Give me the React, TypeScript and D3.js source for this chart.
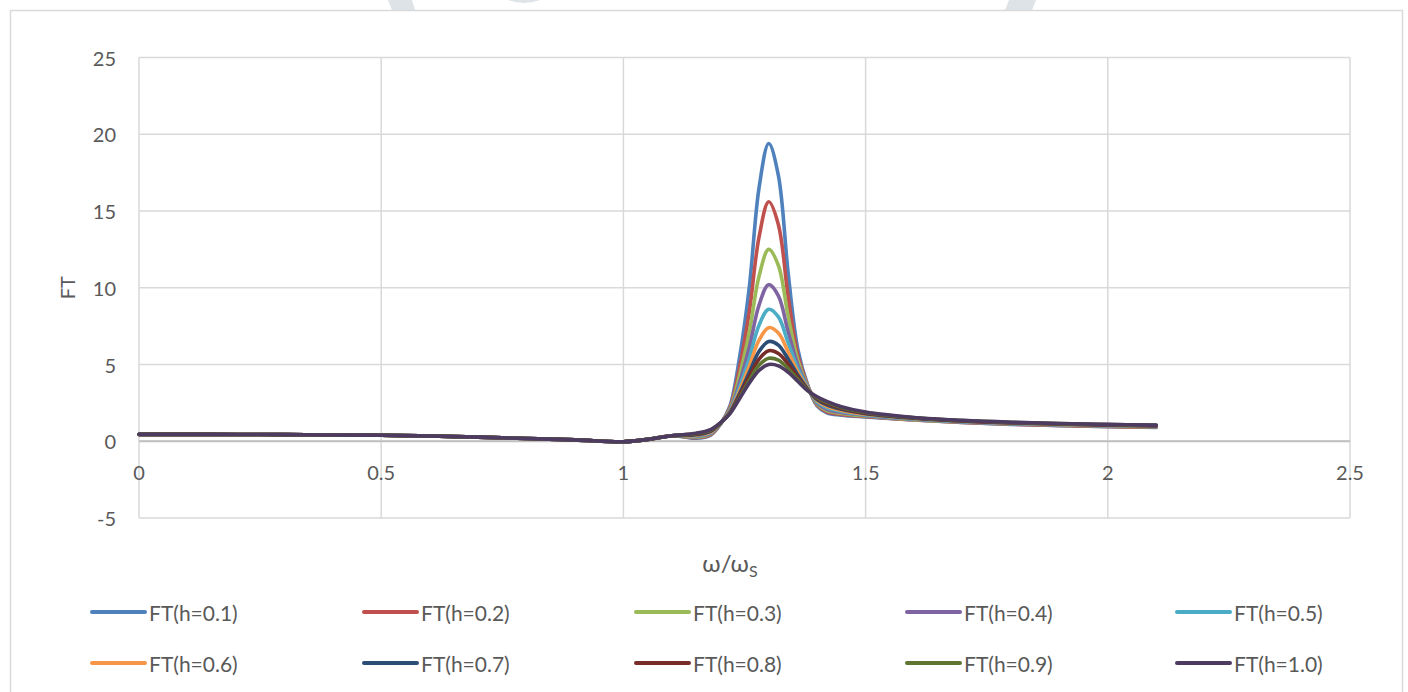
import React from 'react';
import * as d3 from 'd3';

// Shared low-frequency part (all series coincide here)
const omegaBase = [0, 0.1, 0.2, 0.3, 0.4, 0.5, 0.6, 0.7, 0.8, 0.9, 1.0, 1.05, 1.1];
const ftBase = [0.45, 0.45, 0.44, 0.43, 0.41, 0.39, 0.34, 0.27, 0.18, 0.09, -0.03, 0.12, 0.36];

// Resonance region, per series
const omegaPeak = [1.15, 1.18, 1.2, 1.22, 1.24, 1.26, 1.28, 1.3, 1.32, 1.34, 1.36, 1.38, 1.4, 1.42, 1.45, 1.5, 1.6, 1.7, 1.8, 1.9, 2.0, 2.1];
const ftH01 = [0.20, 0.40, 1.10, 2.30, 5.50, 10.07, 16.5, 19.4, 17.3, 11.0, 6.0, 3.7, 2.3, 1.85, 1.7, 1.58, 1.38, 1.22, 1.10, 1.02, 0.95, 0.90];
const ftH02 = [0.23, 0.43, 1.11, 2.20, 4.85, 8.45, 13.3, 15.6, 14.1, 9.46, 5.63, 3.67, 2.35, 1.91, 1.75, 1.61, 1.39, 1.23, 1.11, 1.03, 0.96, 0.91];
const ftH03 = [0.26, 0.47, 1.12, 2.10, 4.30, 7.12, 10.75, 12.5, 11.45, 8.16, 5.28, 3.62, 2.42, 1.99, 1.81, 1.64, 1.41, 1.25, 1.13, 1.05, 0.98, 0.93];
const ftH04 = [0.30, 0.51, 1.13, 2.03, 3.85, 6.13, 8.87, 10.2, 9.47, 7.15, 4.98, 3.57, 2.49, 2.08, 1.87, 1.68, 1.43, 1.26, 1.14, 1.06, 1.00, 0.95];
const ftH05 = [0.34, 0.56, 1.14, 1.97, 3.54, 5.43, 7.56, 8.6, 8.1, 6.42, 4.74, 3.53, 2.56, 2.18, 1.94, 1.72, 1.45, 1.28, 1.16, 1.08, 1.02, 0.97];
const ftH06 = [0.38, 0.60, 1.15, 1.92, 3.30, 4.90, 6.58, 7.4, 7.05, 5.83, 4.51, 3.47, 2.64, 2.27, 2.01, 1.76, 1.48, 1.30, 1.18, 1.10, 1.03, 0.98];
const ftH07 = [0.42, 0.65, 1.16, 1.88, 3.11, 4.49, 5.85, 6.5, 6.26, 5.36, 4.32, 3.42, 2.71, 2.37, 2.08, 1.80, 1.50, 1.32, 1.20, 1.12, 1.05, 1.00];
const ftH08 = [0.45, 0.69, 1.17, 1.85, 2.99, 4.22, 5.35, 5.9, 5.72, 5.03, 4.17, 3.38, 2.78, 2.45, 2.14, 1.83, 1.52, 1.33, 1.21, 1.13, 1.07, 1.02];
const ftH09 = [0.49, 0.72, 1.18, 1.83, 2.87, 3.98, 4.95, 5.4, 5.28, 4.74, 4.03, 3.34, 2.84, 2.53, 2.20, 1.87, 1.53, 1.35, 1.23, 1.15, 1.09, 1.04];
const ftH10 = [0.52, 0.76, 1.20, 1.80, 2.78, 3.79, 4.61, 5.0, 4.91, 4.50, 3.91, 3.30, 2.90, 2.60, 2.25, 1.90, 1.55, 1.36, 1.24, 1.16, 1.10, 1.05];

const seriesNames = ['FT(h=0.1)', 'FT(h=0.2)', 'FT(h=0.3)', 'FT(h=0.4)', 'FT(h=0.5)', 'FT(h=0.6)', 'FT(h=0.7)', 'FT(h=0.8)', 'FT(h=0.9)', 'FT(h=1.0)'];
const seriesPeaks = [ftH01, ftH02, ftH03, ftH04, ftH05, ftH06, ftH07, ftH08, ftH09, ftH10];
const seriesColors = ['#4F81BD', '#C0504D', '#9BBB59', '#8064A2', '#4BACC6', '#F79646', '#2C4D75', '#772C2A', '#5F7530', '#4D3B62'];

const xTicks = [0, 0.5, 1, 1.5, 2, 2.5];
const yTicks = [-5, 0, 5, 10, 15, 20, 25];

const W = 1408;
const H = 692;
const FONT = 'Lato, "Open Sans", sans-serif';

export default function App() {
  const x = d3.scaleLinear().domain([0, 2.5]).range([139, 1350]);
  const y = d3.scaleLinear().domain([-5, 25]).range([518, 57.5]);

  const line = d3
    .line<[number, number]>()
    .x((d) => x(d[0]))
    .y((d) => y(d[1]))
    .curve(d3.curveCatmullRom.alpha(0.5));

  const series = seriesNames.map((name, i) => {
    const pts: [number, number][] = [];
    omegaBase.forEach((w, k) => pts.push([w, ftBase[k]]));
    omegaPeak.forEach((w, k) => pts.push([w, seriesPeaks[i][k]]));
    return { name, color: seriesColors[i], pts };
  });

  const legendCols = [92, 364, 636, 907, 1177];
  const legendRows = [612, 663];

  return (
    <svg
      width={W}
      height={H}
      style={{ position: 'absolute', left: 0, top: 0, background: '#fff' }}
      fontFamily={FONT}
    >
      <rect x={0} y={0} width={W} height={H} fill="#fff" />
      {/* faint watermark fragments above the frame */}
      <g fill="#dde3e7">
        <polygon points="388,0 412,0 415,10 392,10" />
        <path d="M508,0 Q524,6 540,0 Z" />
        <polygon points="1009,0 1036,0 1032,10 1005,10" />
      </g>
      {/* chart frame */}
      <rect x={10.5} y={10.5} width={1392} height={700} fill="none" stroke="#d9d9d9" strokeWidth={1.5} />

      {/* gridlines */}
      <g stroke="#d9d9d9" strokeWidth={1.5}>
        {yTicks.map((t) => (
          <line key={'gy' + t} x1={x(0)} x2={x(2.5)} y1={y(t)} y2={y(t)} />
        ))}
        {xTicks.map((t) => (
          <line key={'gx' + t} x1={x(t)} x2={x(t)} y1={y(25)} y2={y(-5)} />
        ))}
      </g>
      {/* horizontal axis at zero */}
      <line x1={x(0)} x2={x(2.5)} y1={y(0)} y2={y(0)} stroke="#bfbfbf" strokeWidth={1.8} />

      {/* tick labels */}
      <g fill="#595959" fontSize={20}>
        {yTicks.map((t) => (
          <text key={'ty' + t} x={116} y={y(t)} textAnchor="end" dominantBaseline="central">
            {t}
          </text>
        ))}
        {xTicks.map((t) => (
          <text key={'tx' + t} x={x(t)} y={y(0) + 31} textAnchor="middle" dominantBaseline="central">
            {t}
          </text>
        ))}
      </g>

      {/* axis titles */}
      <text
        transform={`translate(67,${y(10)}) rotate(-90)`}
        textAnchor="middle"
        dominantBaseline="central"
        fill="#595959"
        fontSize={20}
      >
        FT
      </text>
      <text x={730} y={572} textAnchor="middle" fill="#595959" fontSize={24}>
        ω/ω<tspan fontSize={16} dy={5}>S</tspan>
      </text>

      {/* series */}
      <g fill="none" strokeWidth={3.6} strokeLinejoin="round" strokeLinecap="round">
        {series.map((s) => (
          <path key={s.name} d={line(s.pts) || ''} stroke={s.color} />
        ))}
      </g>

      {/* legend */}
      <g fontSize={21} fill="#595959">
        {series.map((s, i) => {
          const cx = legendCols[i % 5];
          const cy = legendRows[Math.floor(i / 5)];
          return (
            <g key={'lg' + s.name}>
              <line x1={cx} x2={cx + 53} y1={cy} y2={cy} stroke={s.color} strokeWidth={4} strokeLinecap="round" />
              <text x={cx + 57} y={cy} dominantBaseline="central">
                {s.name}
              </text>
            </g>
          );
        })}
      </g>
    </svg>
  );
}
